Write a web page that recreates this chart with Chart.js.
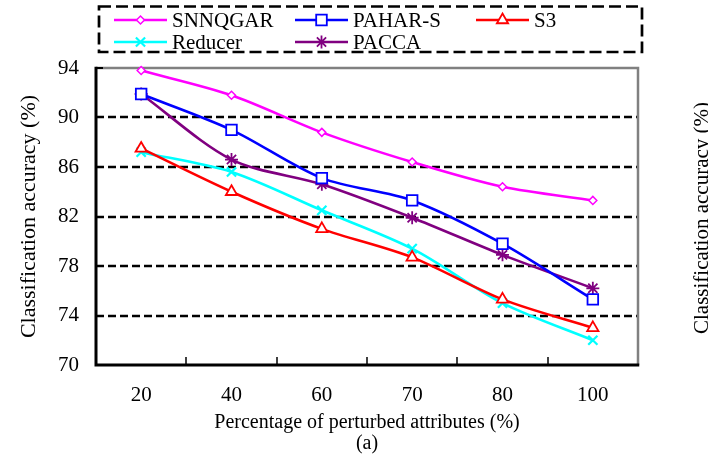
<!DOCTYPE html>
<html><head><meta charset="utf-8">
<script src="https://cdn.jsdelivr.net/npm/chart.js@4.4.0/dist/chart.umd.min.js"></script>
<style>html,body{margin:0;padding:0;background:#fff;}#wrap{width:708px;height:454px;position:relative;}</style>
</head><body><div id="wrap"><canvas id="c" width="708" height="454"></canvas></div>
<script>
const categories = ['20', '40', '60', '70', '80', '100'];
const seriesNames = ['SNNQGAR', 'PAHAR-S', 'S3', 'Reducer', 'PACCA'];
const snnqgar = [93.8, 91.8, 88.8, 86.4, 84.4, 83.3];
const paharS  = [91.9, 89.0, 85.1, 83.3, 79.8, 75.3];
const s3      = [87.5, 84.0, 81.0, 78.7, 75.3, 73.0];
const reducer = [87.2, 85.6, 82.5, 79.4, 75.0, 72.0];
const pacca   = [91.9, 86.6, 84.6, 81.9, 78.9, 76.2];
const yTicks  = [70, 74, 78, 82, 86, 90, 94];
const xTitle = 'Percentage of perturbed attributes (%)';
const subLabel = '(a)';
const yTitle = 'Classification accuracy (%)';

const FONT = '"Liberation Serif", "Times New Roman", serif';

function ds(label, data, color, style, radius, bw) {
  return {
    label, data, borderColor: color, backgroundColor: color,
    borderWidth: 2.6, tension: 0.3, fill: false,
    pointStyle: style, pointRadius: radius, pointHoverRadius: radius,
    pointBorderColor: color, pointBackgroundColor: 'rgba(255,255,255,1)',
    pointBorderWidth: bw, clip: false
  };
}

const datasets = [
  ds(seriesNames[0], snnqgar, '#FF00FF', 'rectRot', 4, 1.5),
  ds(seriesNames[1], paharS, '#0000FF', 'rect', 7.5, 1.8),
  ds(seriesNames[2], s3, '#FF0000', 'triangle', 6.5, 1.8),
  ds(seriesNames[3], reducer, '#00FFFF', 'crossRot', 6.5, 2.2),
  ds(seriesNames[4], pacca, '#800080', 'star', 6.5, 1.8)
];
datasets[3].pointBackgroundColor = 'rgba(0,0,0,0)';
datasets[4].pointBackgroundColor = 'rgba(0,0,0,0)';

const framePlugin = {
  id: 'frame',
  beforeDatasetsDraw(chart) {
    const {ctx, chartArea: {left, right, top, bottom}, scales: {x, y}} = chart;
    ctx.save();
    ctx.strokeStyle = '#000'; ctx.lineWidth = 2.5; ctx.setLineDash([8, 4]);
    y.ticks.forEach(t => {
      if (t.value === y.min || t.value === y.max) return;
      const py = Math.round(y.getPixelForValue(t.value));
      ctx.beginPath(); ctx.moveTo(left, py); ctx.lineTo(right, py); ctx.stroke();
    });
    ctx.setLineDash([]);
    ctx.strokeStyle = '#808080'; ctx.lineWidth = 2.5;
    ctx.beginPath(); ctx.moveTo(left, top); ctx.lineTo(right, top); ctx.lineTo(right, bottom); ctx.stroke();
    ctx.strokeStyle = '#000'; ctx.lineWidth = 2;
    y.ticks.forEach(t => {
      const py = Math.round(y.getPixelForValue(t.value));
      ctx.beginPath(); ctx.moveTo(left, py); ctx.lineTo(left + 7, py); ctx.stroke();
    });
    ctx.lineWidth = 1.5;
    for (let i = 1; i < categories.length; i++) {
      const px = Math.round((x.getPixelForValue(i - 1) + x.getPixelForValue(i)) / 2);
      ctx.beginPath(); ctx.moveTo(px, bottom); ctx.lineTo(px, bottom - 8); ctx.stroke();
    }
    ctx.lineWidth = 3;
    ctx.beginPath(); ctx.moveTo(left, top - 1.25); ctx.lineTo(left, bottom); ctx.lineTo(right + 1.25, bottom); ctx.stroke();
    ctx.restore();
  },
  afterDraw(chart) {
    const ctx = chart.ctx;
    ctx.save();
    ctx.fillStyle = '#000';
    ctx.font = '21px ' + FONT;
    ctx.textAlign = 'center'; ctx.textBaseline = 'middle';
    ctx.translate(702, 218); ctx.rotate(-Math.PI / 2);
    ctx.fillText(yTitle, 0, 0);
    ctx.restore();
  }
};

const legendPlugin = {
  id: 'boxLegend',
  afterDraw(chart) {
    const ctx = chart.ctx;
    ctx.save();
    ctx.strokeStyle = '#000'; ctx.lineWidth = 2.7; ctx.setLineDash([12, 5]);
    ctx.strokeRect(99, 6.5, 543, 45.5);
    ctx.setLineDash([]);
    const colX = [114, 295, 476], rowY = [20, 42];
    chart.data.datasets.forEach((d, i) => {
      const cx = colX[i % 3], cy = rowY[Math.floor(i / 3)];
      ctx.strokeStyle = d.borderColor; ctx.lineWidth = 2.6;
      ctx.beginPath(); ctx.moveTo(cx, cy); ctx.lineTo(cx + 53, cy); ctx.stroke();
      ctx.fillStyle = d.pointBackgroundColor;
      ctx.strokeStyle = d.pointBorderColor;
      ctx.lineWidth = d.pointBorderWidth;
      Chart.helpers.drawPoint(ctx, {pointStyle: d.pointStyle, radius: d.pointRadius, rotation: 0, borderWidth: d.pointBorderWidth}, cx + 26.5, cy);
      ctx.fillStyle = '#000';
      ctx.font = '21px ' + FONT;
      ctx.textAlign = 'left'; ctx.textBaseline = 'middle';
      ctx.fillText(d.label, cx + 58, cy + 1);
    });
    ctx.restore();
  }
};

new Chart(document.getElementById('c'), {
  type: 'line',
  data: {labels: categories, datasets},
  options: {
    responsive: false, animation: false, devicePixelRatio: 1,
    layout: {padding: {top: 68, right: 70, bottom: 0, left: 0}},
    plugins: {legend: {display: false}, tooltip: {enabled: false}, title: {display: false}},
    scales: {
      x: {
        type: 'category', offset: true,
        grid: {display: false, drawTicks: false},
        border: {display: false},
        ticks: {color: '#000', font: {family: FONT, size: 21}, padding: 18, maxRotation: 0, autoSkip: false},
        title: {display: true, text: [xTitle, subLabel], color: '#000', font: {family: FONT, size: 20, lineHeight: 1.05}, padding: {top: 0, bottom: 0}},
        afterFit(s) { s.height = 454 - 365; }
      },
      y: {
        min: 70, max: 94,
        afterBuildTicks(s) { s.ticks = yTicks.map(v => ({value: v})); },
        grid: {display: false, drawTicks: false},
        border: {display: false},
        ticks: {color: '#000', font: {family: FONT, size: 21}, padding: 17},
        title: {display: true, text: yTitle, color: '#000', font: {family: FONT, size: 22, lineHeight: 1.0}, padding: {top: 18, bottom: 0}},
        afterFit(s) { s.width = 96; }
      }
    }
  },
  plugins: [framePlugin, legendPlugin]
});
</script></body></html>
